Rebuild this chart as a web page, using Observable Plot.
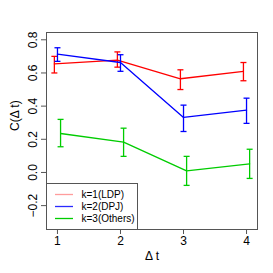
<!DOCTYPE html>
<html><head><meta charset="utf-8">
<script src="https://cdn.jsdelivr.net/npm/d3@7"></script>
<script src="https://cdn.jsdelivr.net/npm/@observablehq/plot@0.6"></script>
<style>
body{margin:0;background:#fff;font-family:"Liberation Sans",Arial,Helvetica,sans-serif}
#wrap{position:relative;width:273px;height:273px}
#wrap svg{display:block}
#legend{position:absolute;left:0;top:0;pointer-events:none}
</style>
</head><body><div id="wrap"></div>
<script>
const dtValues = [1, 2, 3, 4];
const seriesNames = ["k=1(LDP)", "k=2(DPJ)", "k=3(Others)"];
const seriesColors = ["#ff0000", "#0000ff", "#00cc00"];
const legendColors = ["#ff9c9c", "#2a2aff", "#00cc00"];
const ldpMean = [0.655, 0.677, 0.565, 0.610];
const ldpLo   = [0.600, 0.635, 0.500, 0.553];
const ldpHi   = [0.700, 0.727, 0.619, 0.663];
const dpjMean = [0.713, 0.663, 0.332, 0.376];
const dpjLo   = [0.670, 0.610, 0.247, 0.296];
const dpjHi   = [0.752, 0.710, 0.406, 0.448];
const othMean = [0.235, 0.183, 0.010, 0.052];
const othLo   = [0.155, 0.097, -0.078, -0.036];
const othHi   = [0.320, 0.267, 0.097, 0.140];
const yTicks = [-0.2, 0.0, 0.2, 0.4, 0.6, 0.8];
const xLabel = "Δ t";
const yLabel = "C(Δ t)";

const means = [ldpMean, dpjMean, othMean];
const los = [ldpLo, dpjLo, othLo];
const his = [ldpHi, dpjHi, othHi];

const capSymbol = {
  draw(ctx, size) {
    const r = Math.sqrt(size / Math.PI);
    ctx.moveTo(-r, 0); ctx.lineTo(r, 0);
  }
};

const seriesMarks = [];
seriesNames.forEach((name, i) => {
  const rows = dtValues.map((dt, j) => ({dt, mean: means[i][j], lo: los[i][j], hi: his[i][j]}));
  const shift = (i - 1) * 3.1;
  const color = seriesColors[i];
  seriesMarks.push(
    Plot.line(rows, {x: "dt", y: "mean", stroke: color, strokeWidth: 1.3, dx: shift}),
    Plot.link(rows, {x1: "dt", x2: "dt", y1: "lo", y2: "hi", stroke: color, strokeWidth: 1.3, dx: shift}),
    Plot.dot(rows, {x: "dt", y: "lo", symbol: capSymbol, r: 3, stroke: color, strokeWidth: 1.3, fill: "none", dx: shift}),
    Plot.dot(rows, {x: "dt", y: "hi", symbol: capSymbol, r: 3, stroke: color, strokeWidth: 1.3, fill: "none", dx: shift})
  );
});

const fmt = d => (d < 0 ? "\u2212" : "") + Math.abs(d).toFixed(1);

const chart = Plot.plot({
  width: 273, height: 273,
  marginLeft: 46, marginRight: 16, marginTop: 32, marginBottom: 44,
  x: {domain: [0.826, 4.174]},
  y: {domain: [-0.344, 0.844]},
  style: {fontFamily: "'Liberation Sans', Arial, sans-serif", fontSize: "12px", color: "#000", background: "#fff"},
  marks: [
    Plot.axisX(dtValues, {tickSize: 5, tickPadding: 2, fontSize: 12, stroke: "#555", label: null, tickFormat: d => String(d)}),
    Plot.axisY(yTicks, {tickSize: 5, tickFormat: () => "", label: null, stroke: "#555"}),
    Plot.text(yTicks, {y: d => d, text: fmt, frameAnchor: "left", rotate: -90, dx: -13, textAnchor: "middle", lineAnchor: "middle", fontSize: 12, fill: "#000"}),
    Plot.text([xLabel], {frameAnchor: "bottom", dy: 26.5, lineAnchor: "middle", fontSize: 12, fill: "#000"}),
    Plot.text([yLabel], {frameAnchor: "left", rotate: -90, dx: -31, lineAnchor: "middle", fontSize: 12, fill: "#000"}),
    ...seriesMarks,
    Plot.frame({stroke: "#555"})
  ]
});
const wrap = document.getElementById("wrap");
wrap.appendChild(chart);

// legend overlay
const lg = d3.select(wrap).append("svg").attr("id", "legend").attr("width", 273).attr("height", 273);
lg.append("rect").attr("x", 46.5).attr("y", 183.5).attr("width", 91).attr("height", 46)
  .attr("fill", "#fff").attr("stroke", "#555").attr("stroke-width", 1);
seriesNames.forEach((name, i) => {
  const y = 194 + i * 12;
  lg.append("line").attr("x1", 55).attr("x2", 73).attr("y1", y + 0.5).attr("y2", y + 0.5)
    .attr("stroke", legendColors[i]).attr("stroke-width", 1.3);
  lg.append("text").attr("x", 81.5).attr("y", y).attr("dy", "0.35em")
    .attr("font-size", 10).attr("font-family", "'Liberation Sans', Arial, sans-serif")
    .attr("fill", "#000").text(name);
});
</script>
</body></html>
